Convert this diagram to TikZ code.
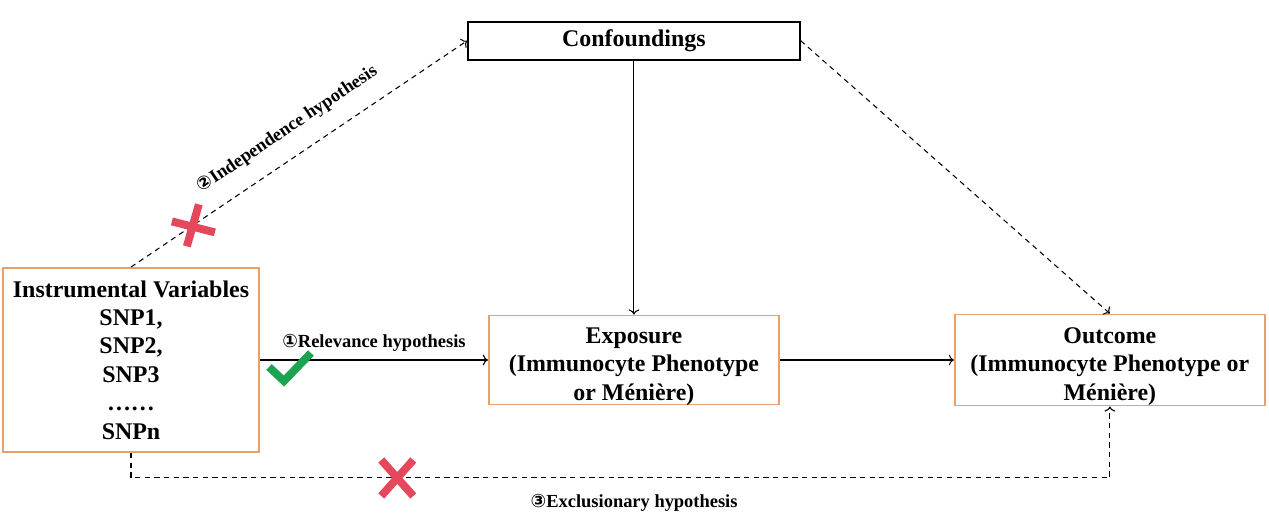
\documentclass[tikz,border=0pt]{standalone}
\usepackage{fontspec}
\setmainfont{Liberation Serif}
\newfontfamily\circfont{DejaVu Sans}
\usepackage{xcolor}
\usetikzlibrary{positioning,arrows.meta}
\definecolor{boxorange}{RGB}{232,160,110}
\definecolor{checkgreen}{RGB}{27,163,80}
\definecolor{crossred}{RGB}{229,72,90}

\begin{document}
\begin{tikzpicture}[
  >=To,
  font=\fontsize{13.6}{16.2}\selectfont\bfseries,
  block/.style={draw=boxorange, line width=1.1pt, align=center, inner sep=2pt},
  lowtext/.style={inner ysep=0.3pt, text height=47.7pt, text depth=2pt},
  confbox/.style={draw, line width=0.9pt, minimum width=6.64cm, minimum height=0.76cm},
  arrow/.style={->, line width=0.6pt},
  dasharrow/.style={->, line width=0.6pt, dash pattern=on 3pt off 2.5pt},
  hyp/.style={font=\fontsize{10.5}{12}\selectfont\bfseries},
  checkmark/.style={checkgreen, line width=4.5pt},
  crossmark/.style={crossred, line width=4.5pt}
]
\useasboundingbox (0,0) rectangle (25.38,-10.6);

\node[block, minimum width=5.12cm, minimum height=3.68cm] (iv) at (2.62,-7.2) {Instrumental Variables\\SNP1,\\SNP2,\\SNP3\\……\\SNPn};
\node[block, lowtext, minimum width=5.8cm, minimum height=1.78cm, right=4.56cm of iv] (exp) {Exposure\\(Immunocyte Phenotype\\or Ménière)};
\node[block, lowtext, minimum width=6.2cm, minimum height=1.82cm, right=3.48cm of exp] (out) {Outcome\\(Immunocyte Phenotype or\\Ménière)};
\node[confbox, above=5.08cm of exp] (conf) {Confoundings};

\draw[arrow] (iv) -- node[hyp, above=1pt] {{\circfont ①}Relevance hypothesis} (exp);
\draw[arrow] (exp) -- (out);
\draw[arrow] (conf) -- (exp);
\draw[dasharrow] (iv.north) -- coordinate[pos=0.184] (x1) node[hyp, pos=0.51, sloped, above=0.24cm] {{\circfont ②}Independence hypothesis} (conf.west);
\draw[dasharrow] (conf.east) -- (out.north);
\coordinate[below=0.5cm of iv.south] (low);
\draw[dasharrow] (iv.south) -- (low) -| coordinate[pos=0.136] (x2) node[hyp, pos=0.257, below=0.2cm] {{\circfont ③}Exclusionary hypothesis} (out.south);

\draw[checkmark] (iv.east) ++(0.18,-0.14) -- ++(0.30,-0.28) -- ++(0.54,0.56);
\draw[crossmark] (x1) ++(-0.42,0.08) -- ++(0.86,-0.22) (x1) ++(0.12,0.42) -- ++(-0.24,-0.84);
\draw[crossmark] (x2) ++(-0.32,0.36) -- ++(0.64,-0.72) (x2) ++(0.32,0.36) -- ++(-0.64,-0.72);
\end{tikzpicture}
\end{document}
